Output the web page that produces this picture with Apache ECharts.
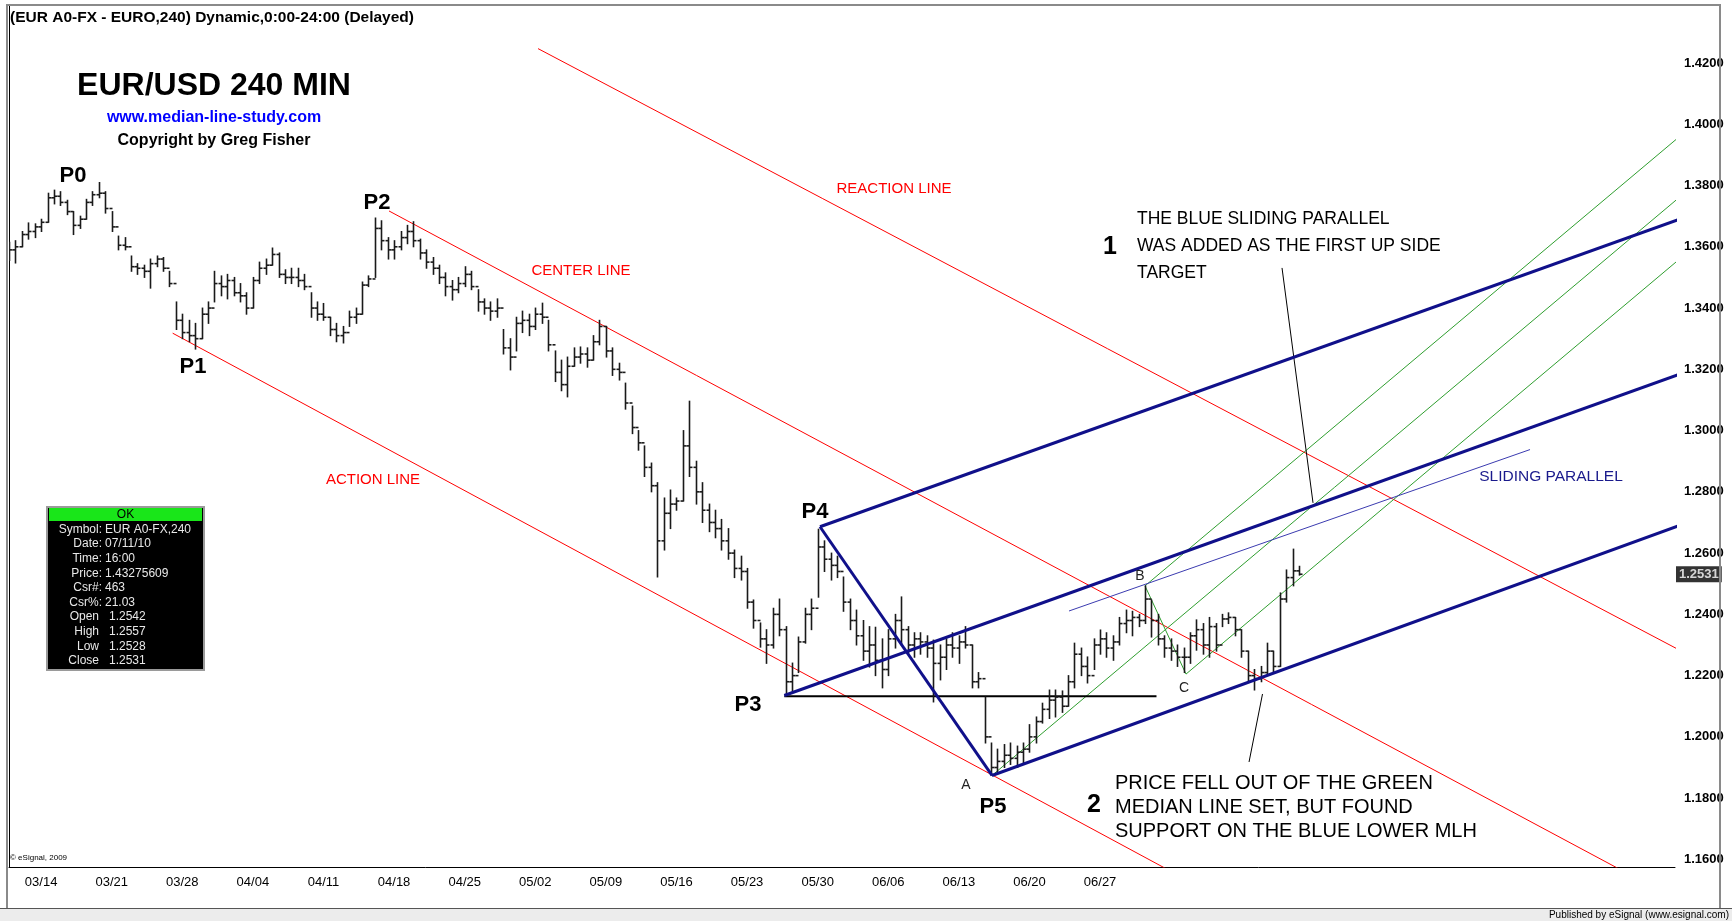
<!DOCTYPE html>
<html><head><meta charset="utf-8">
<script src="https://cdn.jsdelivr.net/npm/echarts@6/dist/echarts.min.js"></script>
<style>html,body{margin:0;padding:0;background:#fff}#c{width:1732px;height:921px}</style>
</head><body><div id="c"></div>
<script>
// ---------- tick labels ----------
const weekLabels = ['03/14','03/21','03/28','04/04','04/11','04/18','04/25','05/02','05/09','05/16','05/23','05/30','06/06','06/13','06/20','06/27'];
const BARS_PER_WEEK = 11, FIRST_WEEK_INDEX = 5;

// ---------- price bars (240-min EUR/USD) ----------
const firstOpen = 1.3580;
const highs = [
1.3615,1.3620,1.3650,1.3678,1.3675,1.3690,1.3775,1.3785,1.3780,1.3752,
1.3715,1.3700,1.3755,1.3780,1.3810,1.3780,1.3715,1.3635,1.3630,1.3570,
1.3545,1.3540,1.3560,1.3570,1.3565,1.3520,1.3420,1.3380,1.3360,1.3350,
1.3400,1.3420,1.3520,1.3505,1.3510,1.3500,1.3480,1.3450,1.3500,1.3550,
1.3560,1.3596,1.3580,1.3525,1.3530,1.3530,1.3510,1.3450,1.3420,1.3415,
1.3370,1.3350,1.3340,1.3390,1.3400,1.3485,1.3505,1.3694,1.3685,1.3630,
1.3620,1.3650,1.3670,1.3682,1.3625,1.3590,1.3565,1.3540,1.3515,1.3490,
1.3500,1.3535,1.3520,1.3460,1.3430,1.3420,1.3430,1.3330,1.3300,1.3370,
1.3390,1.3380,1.3400,1.3416,1.3360,1.3260,1.3230,1.3240,1.3270,1.3273,
1.3270,1.3310,1.3360,1.3340,1.3270,1.3220,1.3155,1.3080,1.3000,1.2950,
1.2894,1.2830,1.2780,1.2806,1.2780,1.3000,1.3096,1.2900,1.2830,1.2760,
1.2740,1.2710,1.2680,1.2610,1.2590,1.2550,1.2447,1.2372,1.2350,1.2420,
1.2450,1.2360,1.2241,1.2326,1.2420,1.2450,1.2678,1.2640,1.2600,1.2590,
1.2522,1.2450,1.2414,1.2380,1.2360,1.2358,1.2320,1.2350,1.2400,1.2457,
1.2360,1.2340,1.2340,1.2330,1.2316,1.2300,1.2320,1.2340,1.2330,1.2360,
1.2300,1.2210,1.2130,1.1980,1.1960,1.1975,1.1980,1.1970,1.1980,1.2040,
1.2065,1.2110,1.2153,1.2153,1.2150,1.2200,1.2306,1.2290,1.2261,1.2320,
1.2349,1.2340,1.2330,1.2390,1.2414,1.2410,1.2400,1.2493,1.2447,1.2400,
1.2330,1.2320,1.2300,1.2290,1.2340,1.2382,1.2370,1.2390,1.2370,1.2400,
1.2405,1.2390,1.2350,1.2280,1.2220,1.2230,1.2306,1.2280,1.2470,1.2545,
1.2613,1.2557];
const lows = [
1.3555,1.3547,1.3600,1.3625,1.3630,1.3650,1.3680,1.3740,1.3735,1.3705,
1.3640,1.3660,1.3690,1.3735,1.3760,1.3710,1.3650,1.3590,1.3590,1.3520,
1.3510,1.3500,1.3465,1.3535,1.3520,1.3470,1.3330,1.3300,1.3290,1.3266,
1.3300,1.3350,1.3420,1.3440,1.3430,1.3440,1.3420,1.3380,1.3400,1.3480,
1.3510,1.3540,1.3500,1.3480,1.3480,1.3470,1.3460,1.3370,1.3360,1.3360,
1.3310,1.3290,1.3286,1.3340,1.3350,1.3380,1.3470,1.3500,1.3590,1.3560,
1.3560,1.3590,1.3610,1.3600,1.3560,1.3530,1.3510,1.3480,1.3440,1.3426,
1.3450,1.3470,1.3460,1.3390,1.3380,1.3360,1.3370,1.3250,1.3198,1.3260,
1.3320,1.3310,1.3330,1.3350,1.3260,1.3160,1.3130,1.3110,1.3210,1.3220,
1.3207,1.3230,1.3280,1.3240,1.3180,1.3165,1.3070,1.2990,1.2936,1.2850,
1.2800,1.2522,1.2610,1.2680,1.2740,1.2770,1.2850,1.2760,1.2700,1.2670,
1.2650,1.2610,1.2580,1.2520,1.2512,1.2420,1.2355,1.2293,1.2240,1.2290,
1.2330,1.2137,1.2150,1.2210,1.2306,1.2350,1.2456,1.2540,1.2512,1.2520,
1.2410,1.2350,1.2300,1.2250,1.2228,1.2200,1.2160,1.2200,1.2290,1.2300,
1.2274,1.2260,1.2270,1.2260,1.2114,1.2186,1.2220,1.2260,1.2240,1.2290,
1.2160,1.2160,1.1980,1.1875,1.1880,1.1900,1.1910,1.1900,1.1910,1.1950,
1.1980,1.2045,1.2060,1.2065,1.2080,1.2100,1.2160,1.2200,1.2176,1.2220,
1.2270,1.2260,1.2250,1.2300,1.2340,1.2330,1.2360,1.2370,1.2326,1.2300,
1.2260,1.2250,1.2230,1.2210,1.2240,1.2283,1.2270,1.2260,1.2280,1.2360,
1.2370,1.2330,1.2260,1.2180,1.2153,1.2180,1.2200,1.2210,1.2230,1.2440,
1.2493,1.2528];
const closes = [
1.3590,1.3600,1.3640,1.3650,1.3665,1.3680,1.3760,1.3765,1.3745,1.3715,
1.3670,1.3690,1.3745,1.3770,1.3775,1.3725,1.3665,1.3605,1.3600,1.3535,
1.3530,1.3520,1.3545,1.3560,1.3530,1.3480,1.3360,1.3320,1.3310,1.3300,
1.3380,1.3400,1.3480,1.3470,1.3490,1.3450,1.3440,1.3400,1.3490,1.3530,
1.3540,1.3575,1.3510,1.3500,1.3500,1.3490,1.3470,1.3400,1.3380,1.3370,
1.3330,1.3310,1.3320,1.3370,1.3380,1.3475,1.3495,1.3660,1.3620,1.3590,
1.3600,1.3630,1.3650,1.3620,1.3580,1.3550,1.3530,1.3500,1.3470,1.3460,
1.3480,1.3510,1.3470,1.3420,1.3400,1.3390,1.3400,1.3270,1.3240,1.3350,
1.3360,1.3340,1.3380,1.3370,1.3280,1.3190,1.3150,1.3210,1.3240,1.3250,
1.3230,1.3290,1.3340,1.3260,1.3200,1.3190,1.3090,1.3010,1.2960,1.2880,
1.2820,1.2640,1.2730,1.2760,1.2770,1.2950,1.2880,1.2800,1.2740,1.2700,
1.2680,1.2640,1.2600,1.2550,1.2540,1.2440,1.2380,1.2320,1.2300,1.2400,
1.2350,1.2180,1.2200,1.2310,1.2400,1.2420,1.2620,1.2580,1.2560,1.2540,
1.2440,1.2380,1.2330,1.2280,1.2300,1.2250,1.2220,1.2320,1.2380,1.2350,
1.2300,1.2320,1.2310,1.2290,1.2240,1.2260,1.2300,1.2290,1.2310,1.2300,
1.2180,1.2190,1.2000,1.1900,1.1920,1.1940,1.1930,1.1950,1.1960,1.2000,
1.2050,1.2090,1.2120,1.2130,1.2100,1.2180,1.2270,1.2230,1.2200,1.2300,
1.2320,1.2290,1.2310,1.2370,1.2380,1.2390,1.2380,1.2450,1.2380,1.2320,
1.2290,1.2280,1.2260,1.2260,1.2330,1.2350,1.2300,1.2360,1.2300,1.2385,
1.2390,1.2350,1.2280,1.2200,1.2190,1.2210,1.2280,1.2230,1.2450,1.2520,
1.2542,1.2531];
const lastClose = 1.2531;

// ---------- drawn study lines: [bar index, price] ----------
const actionLine      = [[25.50, 1.3318], [182.46, 1.1545]];
const centerLine      = [[59.21, 1.3717], [260.4, 1.1462]];
const reactionLine    = [[82.43, 1.4247], [260.4, 1.2282]];
const blueHandle      = [[126.36, 1.2686], [153.16, 1.1874]];
const blueUpper       = [[126.36, 1.2686], [260.4, 1.3691]];
const blueMedian      = [[120.80, 1.2135], [260.4, 1.3185]];
const blueLower       = [[153.16, 1.1874], [260.4, 1.2691]];
const slidingParallel = [[165.16, 1.2411], [236.99, 1.2938]];
const p3Level         = [[120.80, 1.2133], [178.79, 1.2133]];
const greenHandle     = [[177.00, 1.2493], [183.39, 1.2205]];
const greenMedian     = [[153.16, 1.1874], [260.4, 1.3764]];
const greenUpper      = [[177.00, 1.2493], [260.4, 1.3962]];
const greenLower      = [[183.39, 1.2205], [260.4, 1.3562]];
const pointer1        = [[198.35, 1.3531], [203.18, 1.2764]];
const pointer2        = [[193.21, 1.1918], [195.31, 1.2140]];

// ---------- cursor window ----------
const infoLabels = ['Symbol:','Date:','Time:','Price:','Csr#:','Csr%:','Open','High','Low','Close'];
const infoValues = ['EUR A0-FX,240','07/11/10','16:00','1.43275609','463','21.03','1.2542','1.2557','1.2528','1.2531'];

// ---------- axis ranges ----------
const X_MIN = 0, X_MAX = 259.58;
const Y_MIN = 1.15752, Y_MAX = 1.43894;

const FONT = '"Liberation Sans", Arial, sans-serif';
const bars = highs.map((h, i) => [i, i === 0 ? firstOpen : closes[i - 1], closes[i], lows[i], h]);

function seg(pts, color, width, z) {
  return { type: 'line', data: pts, symbol: 'none', showSymbol: false, silent: true, clip: true,
    animation: false, z: z || 3, lineStyle: { color: color, width: width }, emphasis: { disabled: true } };
}
function txt(x, y, text, font, fill, align, vAlign, extra) {
  return Object.assign({ type: 'text', x: x, y: y, silent: true, z: 50,
    style: Object.assign({ text: text, font: font, fill: fill, align: align || 'center', verticalAlign: vAlign || 'middle' }, extra || {}) });
}

const infoChildren = [
  { type: 'rect', shape: { x: 0, y: 0, width: 157, height: 163 }, style: { fill: '#000', stroke: '#9a9a9a', lineWidth: 2 } },
  { type: 'rect', shape: { x: 2, y: 1, width: 153, height: 13 }, style: { fill: '#19e619' } },
  txt(78.5, 8, 'OK', '12px ' + FONT, '#000')
];
infoLabels.forEach((lab, k) => {
  const y = 22.5 + 14.6 * k;
  const second = k >= 6;
  infoChildren.push(txt(second ? 52 : 55, y, lab, '12px ' + FONT, '#e8e8e8', 'right'));
  infoChildren.push(txt(second ? 62 : 58, y, infoValues[k], '12px ' + FONT, '#e8e8e8', 'left'));
});

const option = {
  animation: false,
  backgroundColor: '#fff',
  grid: { left: 9, right: 57, top: 5, bottom: 54, containLabel: false },
  xAxis: {
    type: 'value', min: X_MIN, max: X_MAX, interval: 1,
    axisLine: { show: true, lineStyle: { color: '#000', width: 1 } },
    axisTick: { show: false }, splitLine: { show: false },
    axisLabel: {
      show: true, margin: 9, color: '#000', fontFamily: FONT, fontSize: 13,
      formatter: v => {
        const k = (v - FIRST_WEEK_INDEX) / BARS_PER_WEEK;
        const r = Math.round(k);
        return (Math.abs(k - r) < 1e-6 && weekLabels[r]) ? weekLabels[r] : '';
      }
    }
  },
  yAxis: {
    type: 'value', position: 'right', min: Y_MIN, max: Y_MAX, scale: true,
    minInterval: 0.02, maxInterval: 0.02,
    axisLine: { show: true, lineStyle: { color: '#000', width: 1 } },
    axisTick: { show: false }, splitLine: { show: false },
    axisLabel: {
      margin: 9, color: '#000', fontFamily: FONT, fontSize: 13, fontWeight: 'bold',
      formatter: v => {
        const k = v / 0.02;
        return Math.abs(k - Math.round(k)) < 1e-6 ? v.toFixed(4) : '';
      }
    }
  },
  series: [
    seg(actionLine, '#ff0000', 1),
    seg(centerLine, '#ff0000', 1),
    seg(reactionLine, '#ff0000', 1),
    seg(greenMedian, '#2f9e2f', 1),
    seg(greenUpper, '#2f9e2f', 1),
    seg(greenLower, '#2f9e2f', 1),
    seg(greenHandle, '#2f9e2f', 1),
    seg(slidingParallel, '#3b3bb0', 1),
    seg(p3Level, '#000', 2),
    seg(pointer1, '#000', 1),
    seg(pointer2, '#000', 1),
    {
      type: 'custom', data: bars, z: 4, silent: true, animation: false, clip: true,
      encode: { x: 0, y: [1, 2, 3, 4] },
      renderItem: (params, api) => {
        const i = api.value(0);
        const pO = api.coord([i, api.value(1)]);
        const pC = api.coord([i, api.value(2)]);
        const pL = api.coord([i, api.value(3)]);
        const pH = api.coord([i, api.value(4)]);
        const x = Math.round(pH[0]) + 0.5;
        const st = { stroke: '#1a1a1a', lineWidth: 1.6 };
        return { type: 'group', children: [
          { type: 'line', shape: { x1: x, y1: pH[1] - 0.5, x2: x, y2: pL[1] + 0.5 }, style: st },
          { type: 'line', shape: { x1: x - 3, y1: pO[1], x2: x, y2: pO[1] }, style: st },
          { type: 'line', shape: { x1: x, y1: pC[1], x2: x + 3, y2: pC[1] }, style: st }
        ] };
      }
    },
    {
      type: 'scatter', data: [[X_MAX, lastClose]], symbolSize: 0, clip: false, silent: true, z: 20, animation: false,
      label: { show: true, position: 'right', distance: 1, formatter: () => lastClose.toFixed(4),
        backgroundColor: '#000', color: '#fff', fontFamily: FONT, fontSize: 13, fontWeight: 'bold', padding: [2, 3, 1, 3] }
    },
    seg(blueHandle, '#10108a', 3, 5),
    seg(blueUpper, '#10108a', 3, 5),
    seg(blueMedian, '#10108a', 3, 5),
    seg(blueLower, '#10108a', 3, 5)
  ],
  graphic: [
    // frame & status bar
    { type: 'line', silent: true, z: 40, shape: { x1: 7, y1: 5, x2: 7, y2: 908 }, style: { stroke: '#8a8a8a', lineWidth: 2 } },
    { type: 'line', silent: true, z: 40, shape: { x1: 6, y1: 5, x2: 1721, y2: 5 }, style: { stroke: '#8a8a8a', lineWidth: 2 } },
    { type: 'line', silent: true, z: 40, shape: { x1: 1720, y1: 5, x2: 1720, y2: 908 }, style: { stroke: '#8a8a8a', lineWidth: 2 } },
    { type: 'rect', silent: true, z: 40, shape: { x: 0, y: 908, width: 1732, height: 13 }, style: { fill: '#ececec' } },
    { type: 'line', silent: true, z: 41, shape: { x1: 0, y1: 908.5, x2: 1732, y2: 908.5 }, style: { stroke: '#555', lineWidth: 1 } },
    txt(1729, 915, 'Published by eSignal (www.esignal.com)', '10px ' + FONT, '#000', 'right'),
    txt(10, 858, '© eSignal, 2009', '8px ' + FONT, '#000', 'left'),
    // headings
    txt(10, 18, '(EUR A0-FX - EURO,240) Dynamic,0:00-24:00 (Delayed)', 'bold 15.5px ' + FONT, '#000', 'left'),
    txt(214, 86, 'EUR/USD 240 MIN', 'bold 32px ' + FONT, '#000'),
    txt(214, 118, 'www.median-line-study.com', 'bold 16px ' + FONT, '#0000ff'),
    txt(214, 141, 'Copyright by Greg Fisher', 'bold 16px ' + FONT, '#000'),
    // pivots
    txt(73, 176, 'P0', 'bold 22px ' + FONT, '#000'),
    txt(193, 367, 'P1', 'bold 22px ' + FONT, '#000'),
    txt(377, 203, 'P2', 'bold 22px ' + FONT, '#000'),
    txt(748, 705, 'P3', 'bold 22px ' + FONT, '#000'),
    txt(815, 512, 'P4', 'bold 22px ' + FONT, '#000'),
    txt(993, 807, 'P5', 'bold 22px ' + FONT, '#000'),
    txt(966, 785, 'A', '14px ' + FONT, '#222'),
    txt(1140, 576, 'B', '14px ' + FONT, '#222'),
    txt(1184, 688, 'C', '14px ' + FONT, '#222'),
    // line names
    txt(894, 189, 'REACTION LINE', '15px ' + FONT, '#ff0000'),
    txt(581, 271, 'CENTER LINE', '15px ' + FONT, '#ff0000'),
    txt(373, 480, 'ACTION LINE', '15px ' + FONT, '#ff0000'),
    txt(1551, 477, 'SLIDING PARALLEL', '15.5px ' + FONT, '#1a1a8c'),
    // notes
    txt(1110, 247, '1', 'bold 25px ' + FONT, '#000'),
    txt(1137, 206, 'THE BLUE SLIDING PARALLEL\nWAS ADDED AS THE FIRST UP SIDE\nTARGET', '17.5px ' + FONT, '#000', 'left', 'top', { lineHeight: 27 }),
    txt(1094, 805, '2', 'bold 25px ' + FONT, '#000'),
    txt(1115, 771, 'PRICE FELL OUT OF THE GREEN\nMEDIAN LINE SET, BUT FOUND\nSUPPORT ON THE BLUE LOWER MLH', '20px ' + FONT, '#000', 'left', 'top', { lineHeight: 24 }),
    // cursor window
    { type: 'group', x: 47, y: 507, z: 45, silent: true, children: infoChildren }
  ]
};

const chart = echarts.init(document.getElementById('c'));
chart.setOption(option);
</script>
</body></html>
